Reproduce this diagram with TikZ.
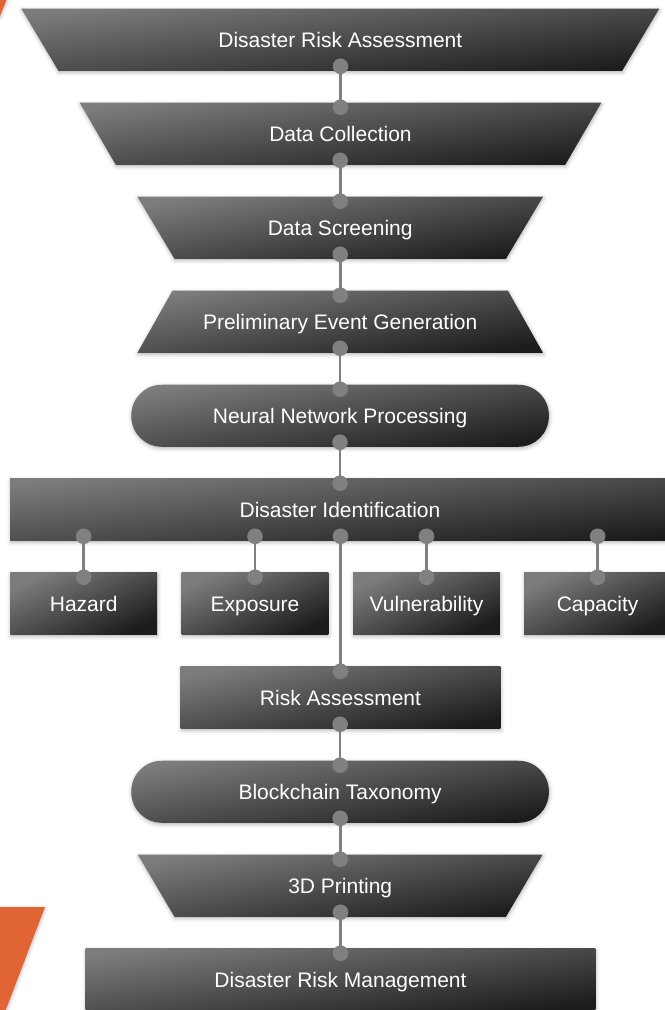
\documentclass[tikz,border=0pt]{standalone}
\usepackage{fontspec}
\setmainfont{Liberation Sans}
\usetikzlibrary{calc,shadows.blur}
\pgfdeclarelayer{background}
\pgfsetlayers{background,main}

\definecolor{boxlight}{RGB}{124,124,124}
\definecolor{boxdark}{RGB}{28,28,28}
\definecolor{linkgray}{RGB}{128,128,128}
\definecolor{accent}{RGB}{225,101,52}

% one drawing unit = one pixel of a 664 x 1010 canvas, y pointing down
\newdimen\pxu \pxu=0.75pt

\tikzset{
  boxlabel/.style={inner sep=0pt, text=white, align=center,
    font=\fontsize{15.75}{18}\selectfont, text height=11.3pt, text depth=0pt,
    minimum height=61.5\pxu},
  % diagonal gradient from the top left corner to the bottom right corner;
  % the argument is atan(height/width) of the box
  boxfill/.style={top color=boxlight, bottom color=boxdark, shading angle=#1,
    blur shadow={shadow xshift=0.4pt, shadow yshift=-1.2pt,
      shadow blur radius=3pt, shadow opacity=30}},
  link/.style={draw=linkgray, line width=2pt},
  accentfill/.style={fill=accent,
    blur shadow={shadow xshift=0.5pt, shadow yshift=-1pt,
      shadow blur radius=2.5pt, shadow opacity=25}}
}

% box outlines drawn behind a named label node
\newcommand\trapwidetop[3]{% node, slant, shading angle
  \path[boxfill=#3] (#1.north west) -- (#1.north east)
    -- ($(#1.south east)+(-#2,0)$) -- ($(#1.south west)+(#2,0)$) -- cycle;}
\newcommand\trapnarrowtop[3]{% node, slant, shading angle
  \path[boxfill=#3] (#1.south west) -- (#1.south east)
    -- ($(#1.north east)+(-#2,0)$) -- ($(#1.north west)+(#2,0)$) -- cycle;}
\newcommand\roundbox[2]{% node, shading angle
  \path[boxfill=#2, rounded corners=22.8pt] (#1.north west) rectangle (#1.south east);}
\newcommand\flatbox[2]{% node, shading angle
  \path[boxfill=#2] (#1.north west) rectangle (#1.south east);}

% vertical link with a knob at each end, at the x of the lower node
\newcommand\joint[2]{%
  \draw[link] ($(#1.south -| #2.north)+(0,-4.5)$) coordinate (ja)
    -- ($(#2.north)+(0,4.5)$) coordinate (jb);
  \fill[linkgray] (ja) circle[radius=7.8\pxu] (jb) circle[radius=7.8\pxu];}

\begin{document}
\begin{tikzpicture}[x=0.75pt, y=-0.75pt]
\useasboundingbox (0,0) rectangle (664,1010);

% orange accents at the left edge
\fill[accentfill] (-20,0) -- (6.5,0) -- (0,16) -- (-20,16) -- cycle;
\fill[accentfill] (-20,907) -- (45,907) -- (5,1012) -- (-20,1012) -- cycle;

% label nodes
\node[boxlabel, minimum width=637.3\pxu] (dra) at (340.3,39.75) {Disaster Risk Assessment};
\node[boxlabel, minimum width=521\pxu]   (dc)  at (340.5,133.75) {Data Collection};
\node[boxlabel, minimum width=405\pxu]   (ds)  at (340.2,227.75) {Data Screening};
\node[boxlabel, minimum width=405\pxu]   (peg) at (340.2,321.75) {Preliminary Event Generation};
\node[boxlabel, minimum width=417\pxu]   (nnp) at (340.1,415.75) {Neural Network Processing};
\node[boxlabel, minimum width=659\pxu]   (di)  at (340,509.75) {Disaster Identification};
\node[boxlabel, minimum width=146.2\pxu] (hz)  at (83.7,603.75) {Hazard};
\node[boxlabel, minimum width=146.2\pxu] (ex)  at (255,603.75) {Exposure};
\node[boxlabel, minimum width=146.2\pxu] (vu)  at (426.5,603.75) {Vulnerability};
\node[boxlabel, minimum width=146.2\pxu] (ca)  at (597.6,603.75) {Capacity};
\node[boxlabel, minimum width=319\pxu]   (ra)  at (340.5,697.75) {Risk Assessment};
\node[boxlabel, minimum width=417\pxu]   (bt)  at (340.1,791.75) {Blockchain Taxonomy};
\node[boxlabel, minimum width=404\pxu]   (tdp) at (340.2,885.75) {3D Printing};
\node[boxlabel, minimum width=509\pxu]   (drm) at (340.5,979.75) {Disaster Risk Management};

% box bodies
\begin{pgfonlayer}{background}
  \trapwidetop{dra}{37}{6.5}
  \trapwidetop{dc}{36}{7.8}
  \trapwidetop{ds}{37}{10}
  \trapnarrowtop{peg}{35}{10}
  \roundbox{nnp}{9.8}
  \flatbox{di}{6.2}
  \flatbox{hz}{25}
  \flatbox{ex}{25}
  \flatbox{vu}{25}
  \flatbox{ca}{25}
  \flatbox{ra}{12.5}
  \roundbox{bt}{9.8}
  \trapwidetop{tdp}{36.5}{10}
  \flatbox{drm}{8}
\end{pgfonlayer}

% links
\joint{dra}{dc}
\joint{dc}{ds}
\joint{ds}{peg}
\joint{peg}{nnp}
\joint{nnp}{di}
\joint{di}{hz}
\joint{di}{ex}
\joint{di}{vu}
\joint{di}{ca}
\joint{di}{ra}
\joint{ra}{bt}
\joint{bt}{tdp}
\joint{tdp}{drm}
\end{tikzpicture}
\end{document}
